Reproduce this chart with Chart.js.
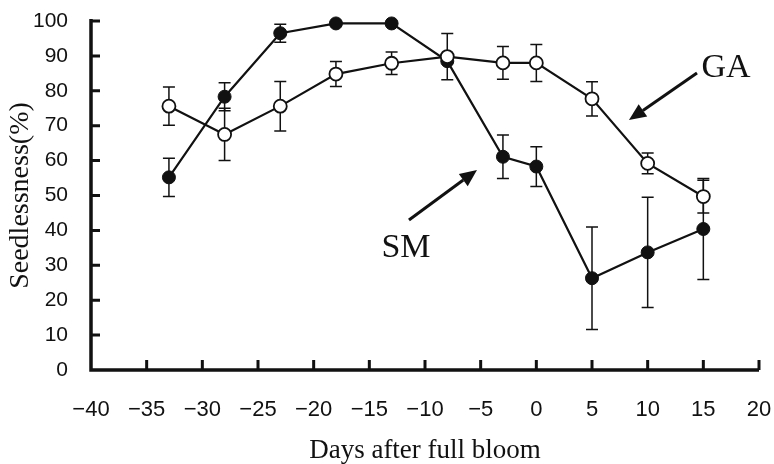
<!DOCTYPE html>
<html>
<head>
<meta charset="utf-8">
<script src="https://cdn.jsdelivr.net/npm/chart.js@4"></script>
<style>
  html, body { margin: 0; padding: 0; background: #fff; }
  #wrap { width: 774px; height: 464px; }
</style>
</head>
<body>
<div id="wrap"><canvas id="chart" width="774" height="464"></canvas></div>
<script>
var days = [-33, -28, -23, -18, -13, -8, -3, 0, 5, 10, 15];
var smValues = [55.2, 78.3, 96.5, 99.3, 99.3, 88.5, 61.1, 58.3, 26.3, 33.7, 40.4];
var smErrors = [5.5, 4.0, 2.6, 0, 0, 0, 6.2, 5.7, 14.7, 15.8, 14.5];
var gaValues = [75.6, 67.5, 75.6, 84.8, 87.9, 89.8, 88.0, 88.0, 77.7, 59.2, 49.7];
var gaErrors = [5.5, 7.5, 7.1, 3.6, 3.2, 6.6, 4.7, 5.3, 4.9, 3.0, 4.7];
var xTicks = [-40, -35, -30, -25, -20, -15, -10, -5, 0, 5, 10, 15, 20];
var yTicks = [0, 10, 20, 30, 40, 50, 60, 70, 80, 90, 100];

// labels with arrows, in data units
var notes = [
  { text: 'GA', x: 17.04, y: 86.4, from: [14.43, 85.1], to: [8.32, 71.6] },
  { text: 'SM', x: -11.71, y: 35.0, from: [-11.44, 43.0], to: [-5.33, 57.3] }
];

var ink = '#111';

function points(values) {
  return days.map(function (d, i) { return { x: d, y: values[i] }; });
}

function noOverflow(s) {
  s.paddingLeft = 0; s.paddingRight = 0; s.paddingTop = 0; s.paddingBottom = 0;
}

var errorBars = {
  id: 'errorBars',
  beforeDatasetsDraw: function (chart) {
    var ctx = chart.ctx, xs = chart.scales.x, ys = chart.scales.y;
    ctx.save();
    ctx.strokeStyle = ink;
    ctx.lineWidth = 1.5;
    [[smValues, smErrors], [gaValues, gaErrors]].forEach(function (s) {
      days.forEach(function (d, i) {
        if (!s[1][i]) return;
        var px = xs.getPixelForValue(d);
        var top = ys.getPixelForValue(s[0][i] + s[1][i]);
        var bot = ys.getPixelForValue(s[0][i] - s[1][i]);
        ctx.beginPath();
        ctx.moveTo(px, top); ctx.lineTo(px, bot);
        ctx.moveTo(px - 6, top); ctx.lineTo(px + 6, top);
        ctx.moveTo(px - 6, bot); ctx.lineTo(px + 6, bot);
        ctx.stroke();
      });
    });
    ctx.restore();
  }
};

var axesAndNotes = {
  id: 'axesAndNotes',
  afterDatasetsDraw: function (chart) {
    var ctx = chart.ctx, xs = chart.scales.x, ys = chart.scales.y;
    var a = chart.chartArea;
    ctx.save();
    ctx.strokeStyle = ink;
    ctx.lineWidth = 3.5;
    ctx.beginPath();
    ctx.moveTo(a.left, a.top - 2); ctx.lineTo(a.left, a.bottom); ctx.lineTo(a.right, a.bottom);
    ctx.stroke();
    ctx.lineWidth = 3;
    ctx.beginPath();
    xTicks.forEach(function (v) {
      if (v === -40) return;
      var px = xs.getPixelForValue(v);
      ctx.moveTo(px, a.bottom); ctx.lineTo(px, a.bottom - 10);
    });
    yTicks.forEach(function (v) {
      if (v === 0) return;
      var py = ys.getPixelForValue(v);
      ctx.moveTo(a.left, py); ctx.lineTo(a.left + 9, py);
    });
    ctx.stroke();

    ctx.fillStyle = ink;
    ctx.font = '34px "Liberation Serif", "Times New Roman", serif';
    ctx.textAlign = 'center';
    ctx.textBaseline = 'middle';
    notes.forEach(function (n) {
      ctx.fillText(n.text, xs.getPixelForValue(n.x), ys.getPixelForValue(n.y));
      var x1 = xs.getPixelForValue(n.from[0]), y1 = ys.getPixelForValue(n.from[1]);
      var x2 = xs.getPixelForValue(n.to[0]), y2 = ys.getPixelForValue(n.to[1]);
      var ang = Math.atan2(y2 - y1, x2 - x1);
      var len = 17, half = 7.5;
      var bx = x2 - len * Math.cos(ang), by = y2 - len * Math.sin(ang);
      ctx.lineWidth = 3;
      ctx.beginPath();
      ctx.moveTo(x1, y1); ctx.lineTo(bx, by);
      ctx.stroke();
      ctx.beginPath();
      ctx.moveTo(x2, y2);
      ctx.lineTo(bx + half * Math.sin(ang), by - half * Math.cos(ang));
      ctx.lineTo(bx - half * Math.sin(ang), by + half * Math.cos(ang));
      ctx.closePath();
      ctx.fill();
    });
    ctx.restore();
  }
};

var ctx = document.getElementById('chart').getContext('2d');
new Chart(ctx, {
  type: 'line',
  data: {
    datasets: [{
      label: 'GA',
      data: points(gaValues),
      borderColor: ink,
      borderWidth: 2.2,
      pointRadius: 6.5,
      pointBackgroundColor: '#fff',
      pointBorderColor: ink,
      pointBorderWidth: 1.8,
      clip: false
    }, {
      label: 'SM',
      data: points(smValues),
      borderColor: ink,
      borderWidth: 2.2,
      pointRadius: 6.5,
      pointBackgroundColor: ink,
      pointBorderColor: ink,
      pointBorderWidth: 1,
      clip: false
    }]
  },
  options: {
    responsive: false,
    animation: false,
    events: [],
    layout: { padding: { top: 21, right: 15, left: 0, bottom: 0 } },
    plugins: { legend: { display: false }, tooltip: { enabled: false } },
    scales: {
      x: {
        type: 'linear',
        min: -40, max: 20,
        afterFit: function (s) { s.height = 94; noOverflow(s); },
        afterBuildTicks: function (s) { s.ticks = xTicks.map(function (v) { return { value: v }; }); },
        grid: { display: false, drawTicks: false },
        border: { display: false },
        ticks: {
          color: ink,
          padding: 29,
          font: { family: '"Liberation Sans", Arial, sans-serif', size: 22, lineHeight: 1 },
          callback: function (v) { return v < 0 ? '\u2212' + Math.abs(v) : String(v); }
        },
        title: {
          display: true,
          text: 'Days after full bloom',
          color: ink,
          padding: { top: 0, bottom: 0 },
          font: { family: '"Liberation Serif", "Times New Roman", serif', size: 27, lineHeight: 1 }
        }
      },
      y: {
        type: 'linear',
        min: 0, max: 100,
        afterFit: function (s) { s.width = 91; noOverflow(s); },
        afterBuildTicks: function (s) { s.ticks = yTicks.map(function (v) { return { value: v }; }); },
        grid: { display: false, drawTicks: false },
        border: { display: false },
        ticks: {
          color: ink,
          padding: 23,
          font: { family: '"Liberation Sans", Arial, sans-serif', size: 21, lineHeight: 1 }
        },
        title: {
          display: true,
          text: 'Seedlessness(%)',
          color: ink,
          padding: { top: 7, bottom: 0 },
          font: { family: '"Liberation Serif", "Times New Roman", serif', size: 28, lineHeight: 1 }
        }
      }
    }
  },
  plugins: [errorBars, axesAndNotes]
});
</script>
</body>
</html>
